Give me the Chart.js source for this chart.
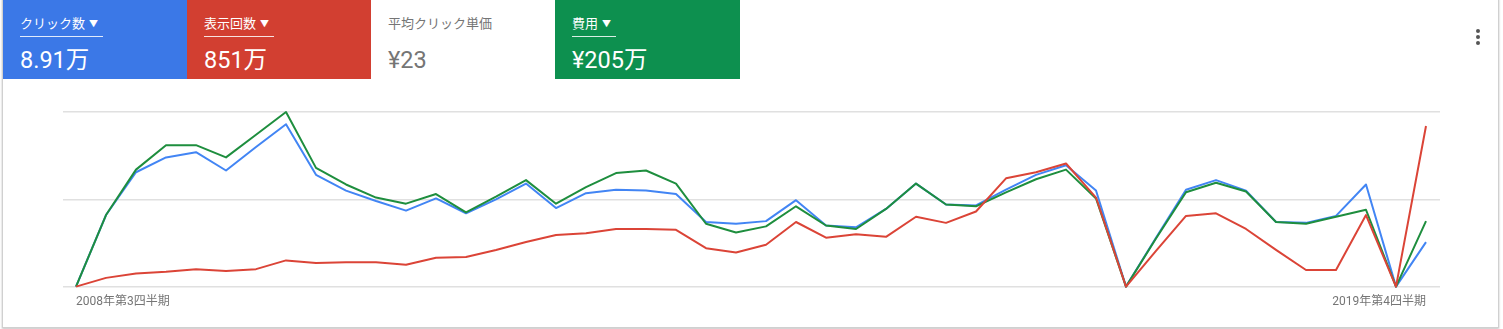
<!DOCTYPE html>
<html>
<head>
<meta charset="utf-8">
<script src="https://cdn.jsdelivr.net/npm/chart.js"></script>
<style>
  body { margin: 0; background: #fff; font-family: Roboto, "Noto Sans CJK JP", sans-serif; }
  #frame { position: absolute; left: 2px; top: -2px; width: 1495px; height: 328px; border: 1px solid #d0d0d0; box-shadow: 0 1px 2px rgba(0,0,0,0.25); background: #fff; }
  .card { position: absolute; top: 0; height: 79px; width: 185px; box-sizing: border-box; color: #fff; }
  .card .title { position: absolute; top: 14px; left: 17px; font-size: 13px; line-height: 18px; padding-bottom: 2px; padding-right: 5px; border-bottom: 1px solid rgba(255,255,255,0.85); font-family: "Noto Sans CJK JP", sans-serif; }
  .card .title .arr { font-size: 9px; margin-left: 4px; position: relative; top: -1px; }
  .card .value { position: absolute; top: 45px; left: 17px; font-size: 23.5px; line-height: 30px; font-family: Roboto, "Noto Sans CJK JP", sans-serif; }
  .card.plain { color: #757575; }
  .card.plain .title { border-bottom: none; }
  #menu { position: absolute; left: 1476px; top: 29px; width: 4px; }
  #menu span { display: block; width: 4px; height: 4px; border-radius: 2px; background: #555; margin-bottom: 2px; }
  #wrap { position: absolute; left: 0; top: 80px; width: 1503px; height: 249px; }
</style>
</head>
<body>
<div id="frame"></div>
<div class="card" style="left:3px;background:#3b78e7;"><div class="title">クリック数<span class="arr">▼</span></div><div class="value">8.91万</div></div>
<div class="card" style="left:187px;background:#d23f31;"><div class="title">表示回数<span class="arr">▼</span></div><div class="value">851万</div></div>
<div class="card plain" style="left:371px;background:#fff;"><div class="title">平均クリック単価</div><div class="value">¥23</div></div>
<div class="card" style="left:555px;background:#0d904f;"><div class="title">費用<span class="arr">▼</span></div><div class="value">¥205万</div></div>
<div id="menu"><span></span><span></span><span></span></div>
<div id="wrap"><canvas id="myChart"></canvas></div>
<script>
// Quarters 2008 Q3 .. 2019 Q4
const quarters = [];
for (let y = 2008; y <= 2019; y++) {
  for (let q = 1; q <= 4; q++) {
    if (y === 2008 && q < 3) continue;
    quarters.push(y + '年第' + q + '四半期');
  }
}

// relative values (grid step = 100)
const clicks = [0, 82, 131, 148, 154, 133, 160, 186, 128, 110, 98, 87, 101, 84, 100, 118,
  90, 107, 111, 110, 106, 74, 72, 75, 99, 70, 68, 89, 118, 94, 93, 111,
  128, 139, 110, 0, 56, 111, 122, 110, 74, 73, 81, 117, 0, 51];
const impressions = [0, 10, 15, 17, 20, 18, 20, 30, 27, 28, 28, 25, 33, 34, 42, 51,
  59, 61, 66, 66, 65, 44, 39, 48, 74, 56, 60, 57, 80, 73, 86, 124,
  131, 141, 102, 0, 41, 81, 84, 66, 42, 19, 19, 82, 0, 184];
const cost = [0, 82, 134, 162, 162, 148, 174, 200, 136, 117, 102, 95, 106, 85, 103, 122,
  95, 114, 130, 133, 118, 72, 62, 69, 92, 70, 66, 89, 118, 94, 92, 108,
  123, 134, 101, 0, 55, 108, 119, 109, 74, 72, 80, 88, 0, 75];

function pts(arr) { return arr.map((v, i) => ({ x: i, y: v })); }

// first dataset is drawn on top
const ctx = document.getElementById('myChart').getContext('2d');
const myChart = new Chart(ctx, {
  type: 'line',
  data: {
    datasets: [
      { label: '表示回数', data: pts(impressions), borderColor: '#db4437' },
      { label: '費用', data: pts(cost), borderColor: '#1e8e3e' },
      { label: 'クリック数', data: pts(clicks), borderColor: '#4285f4' }
    ]
  },
  options: {
    responsive: true,
    maintainAspectRatio: false,
    animation: false,
    layout: { padding: { left: 63, right: 63, top: 32, bottom: 12 } },
    elements: {
      line: { borderWidth: 2, tension: 0, borderJoinStyle: 'round' },
      point: { radius: 0 }
    },
    datasets: { line: { clip: false } },
    plugins: { legend: { display: false }, tooltip: { enabled: false } },
    scales: {
      x: {
        type: 'linear',
        min: -13 / 30,
        max: 45 + 14 / 30,
        grid: { display: false, drawTicks: false },
        border: { display: false },
        afterBuildTicks: (axis) => { axis.ticks = [{ value: 0 }, { value: quarters.length - 1 }]; },
        ticks: {
          align: 'inner',
          maxRotation: 0,
          autoSkip: false,
          padding: 8,
          color: '#757575',
          font: { size: 12, family: 'Roboto, "Noto Sans CJK JP", sans-serif' },
          callback: (v) => quarters[v]
        }
      },
      y: {
        min: 0,
        max: 200,
        ticks: { display: false, stepSize: 100 },
        border: { display: false },
        grid: { color: '#e0e0e0', lineWidth: 1.5, drawTicks: false }
      }
    }
  }
});
</script>
</body>
</html>
